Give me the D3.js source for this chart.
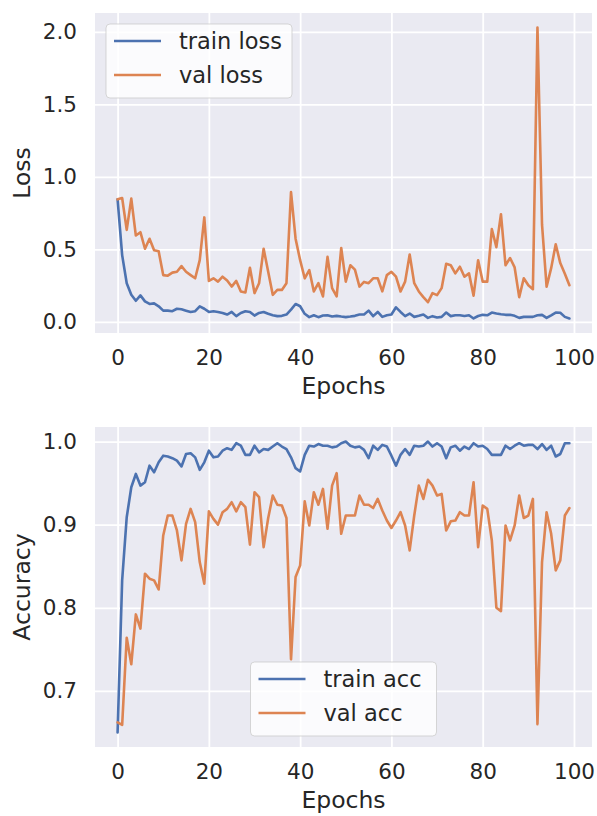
<!DOCTYPE html>
<html>
<head>
<meta charset="utf-8">
<script src="https://cdn.jsdelivr.net/npm/d3@7/dist/d3.min.js"></script>
<style>
  body { margin: 0; background: #ffffff; }
  text { font-family: "DejaVu Sans", sans-serif; fill: #262626; }
</style>
</head>
<body>
<div id="chart"></div>
<script>
// Data (100 epochs)
var epochs = d3.range(100);

var trainLoss = [
  0.845, 0.46, 0.266, 0.186, 0.145, 0.182, 0.141, 0.123, 0.127, 0.107,
  0.077, 0.077, 0.073, 0.09, 0.086, 0.077, 0.068, 0.073, 0.107, 0.09,
  0.068, 0.073, 0.068, 0.061, 0.05, 0.068, 0.039, 0.061, 0.073, 0.068,
  0.043, 0.061, 0.068, 0.055, 0.045, 0.039, 0.041, 0.05, 0.084, 0.123,
  0.107, 0.055, 0.032, 0.045, 0.032, 0.043, 0.045, 0.036, 0.041, 0.036,
  0.032, 0.036, 0.041, 0.05, 0.05, 0.077, 0.039, 0.068, 0.034, 0.045,
  0.05, 0.10, 0.068, 0.039, 0.057, 0.034, 0.041, 0.05, 0.027, 0.039,
  0.03, 0.034, 0.064, 0.039, 0.045, 0.045, 0.04, 0.045, 0.023, 0.04,
  0.048, 0.045, 0.064, 0.057, 0.052, 0.048, 0.048, 0.041, 0.027, 0.034,
  0.034, 0.034, 0.045, 0.048, 0.027, 0.045, 0.064, 0.062, 0.034, 0.023
];

var valLoss = [
  0.845, 0.854, 0.634, 0.85, 0.595, 0.618, 0.504, 0.573, 0.493, 0.486,
  0.322, 0.318, 0.339, 0.345, 0.384, 0.345, 0.322, 0.30, 0.425, 0.72,
  0.282, 0.30, 0.277, 0.311, 0.285, 0.243, 0.282, 0.209, 0.202, 0.373,
  0.198, 0.266, 0.504, 0.345, 0.186, 0.22, 0.22, 0.266, 0.895, 0.573,
  0.425, 0.30, 0.357, 0.209, 0.266, 0.175, 0.448, 0.232, 0.175, 0.509,
  0.277, 0.39, 0.36, 0.243, 0.275, 0.266, 0.30, 0.30, 0.21, 0.322,
  0.345, 0.311, 0.209, 0.277, 0.464, 0.266, 0.209, 0.17, 0.135, 0.198,
  0.184, 0.232, 0.40, 0.39, 0.334, 0.38, 0.311, 0.334, 0.18, 0.425,
  0.277, 0.277, 0.64, 0.515, 0.742, 0.39, 0.44, 0.375, 0.17, 0.30,
  0.252, 0.225, 2.03, 0.67, 0.242, 0.37, 0.535, 0.405, 0.332, 0.252
];

var trainAcc = [
  0.650, 0.833, 0.909, 0.945, 0.961, 0.947, 0.951, 0.971, 0.963, 0.975,
  0.983, 0.982, 0.980, 0.977, 0.970, 0.985, 0.986, 0.981, 0.966, 0.975,
  0.989, 0.981, 0.982, 0.989, 0.992, 0.990, 0.998, 0.995, 0.984, 0.984,
  0.995, 0.987, 0.991, 0.990, 0.994, 0.998, 0.994, 0.991, 0.981, 0.968,
  0.964, 0.984, 0.995, 0.994, 0.997, 0.995, 0.995, 0.993, 0.994, 0.998,
  1.000, 0.995, 0.993, 0.994, 0.990, 0.980, 0.995, 0.990, 0.996, 0.994,
  0.983, 0.971, 0.984, 0.991, 0.984, 0.995, 0.994, 0.995, 1.000, 0.994,
  0.998, 0.994, 0.980, 0.993, 0.995, 0.989, 0.994, 0.991, 0.998, 0.994,
  0.995, 0.991, 0.984, 0.984, 0.984, 0.995, 0.991, 0.995, 0.998, 0.995,
  0.996, 0.996, 0.991, 0.997, 0.990, 0.995, 0.982, 0.985, 0.998, 0.998
];

var valAcc = [
  0.662, 0.659, 0.764, 0.732, 0.792, 0.775, 0.841, 0.835, 0.833, 0.822,
  0.887, 0.911, 0.911, 0.893, 0.857, 0.901, 0.919, 0.903, 0.855, 0.829,
  0.916, 0.907, 0.900, 0.915, 0.919, 0.927, 0.916, 0.927, 0.921, 0.876,
  0.939, 0.933, 0.873, 0.908, 0.935, 0.924, 0.923, 0.908, 0.738, 0.837,
  0.851, 0.928, 0.899, 0.939, 0.924, 0.943, 0.895, 0.947, 0.962, 0.889,
  0.911, 0.911, 0.911, 0.935, 0.924, 0.924, 0.920, 0.931, 0.917, 0.905,
  0.896, 0.905, 0.915, 0.899, 0.869, 0.911, 0.947, 0.931, 0.954, 0.947,
  0.935, 0.937, 0.893, 0.904, 0.905, 0.915, 0.911, 0.911, 0.951, 0.873,
  0.923, 0.919, 0.881, 0.800, 0.796, 0.899, 0.881, 0.899, 0.935, 0.908,
  0.911, 0.931, 0.660, 0.855, 0.915, 0.889, 0.845, 0.857, 0.911, 0.920
];

// tick labels
var xTicks = [0, 20, 40, 60, 80, 100];
var lossTicks = [0.0, 0.5, 1.0, 1.5, 2.0];
var accTicks = [0.7, 0.8, 0.9, 1.0];

// seaborn "deep" colours
var trainColor = "#4c72b0";
var valColor = "#dd8452";

// Set svg dimensions
var svgWidth = 597;
var svgHeight = 816;

// panel box (both subplots share x placement)
var panelLeft = 95;
var panelRight = 592;
var panelHeight = 320;

var svg = d3.select("#chart")
  .append("svg")
  .attr("width", svgWidth)
  .attr("height", svgHeight);

// matplotlib style 5% padding around the data
function padded(values) {
  var lo = d3.min(values), hi = d3.max(values);
  var pad = (hi - lo) * 0.05;
  return [lo - pad, hi + pad];
}

var xScale = d3.scaleLinear()
  .domain(padded([0, 99]))
  .range([panelLeft, panelRight]);

function drawPanel(top, train, val, yLabel, yTicks, names, legendSpot) {
  var bottom = top + panelHeight;

  var yScale = d3.scaleLinear()
    .domain(padded(train.concat(val)))
    .range([bottom, top]);

  var g = svg.append("g");

  // grey background
  g.append("rect")
    .attr("x", panelLeft)
    .attr("y", top)
    .attr("width", panelRight - panelLeft)
    .attr("height", panelHeight)
    .attr("fill", "#eaeaf2");

  // white grid
  g.append("g")
    .attr("transform", `translate(0, ${bottom})`)
    .call(d3.axisBottom(xScale).tickValues(xTicks).tickSize(-panelHeight).tickFormat(""))
    .call(a => a.select(".domain").remove())
    .selectAll("line")
    .attr("stroke", "#ffffff")
    .attr("stroke-width", 1.8);

  g.append("g")
    .attr("transform", `translate(${panelLeft}, 0)`)
    .call(d3.axisLeft(yScale).tickValues(yTicks).tickSize(-(panelRight - panelLeft)).tickFormat(""))
    .call(a => a.select(".domain").remove())
    .selectAll("line")
    .attr("stroke", "#ffffff")
    .attr("stroke-width", 1.8);

  // tick labels
  var xAxis = g.append("g")
    .attr("transform", `translate(0, ${bottom})`)
    .call(d3.axisBottom(xScale).tickValues(xTicks).tickSize(0).tickPadding(17).tickFormat(d3.format("d")));
  xAxis.select(".domain").remove();
  xAxis.selectAll("text")
    .style("font-size", "21.5px")
    .attr("fill", "#262626");

  var yAxis = g.append("g")
    .attr("transform", `translate(${panelLeft}, 0)`)
    .call(d3.axisLeft(yScale).tickValues(yTicks).tickSize(0).tickPadding(18).tickFormat(d3.format(".1f")));
  yAxis.select(".domain").remove();
  yAxis.selectAll("text")
    .style("font-size", "21.5px")
    .attr("fill", "#262626");

  // the two curves
  var line = d3.line()
    .x((d, i) => xScale(epochs[i]))
    .y(d => yScale(d));

  g.append("path")
    .datum(train)
    .attr("d", line)
    .attr("fill", "none")
    .attr("stroke", trainColor)
    .attr("stroke-width", 2.6)
    .attr("stroke-linejoin", "round")
    .attr("stroke-linecap", "round");

  g.append("path")
    .datum(val)
    .attr("d", line)
    .attr("fill", "none")
    .attr("stroke", valColor)
    .attr("stroke-width", 2.6)
    .attr("stroke-linejoin", "round")
    .attr("stroke-linecap", "round");

  // axis labels
  g.append("text")
    .attr("x", (panelLeft + panelRight) / 2)
    .attr("y", bottom + 61)
    .attr("text-anchor", "middle")
    .style("font-size", "23.5px")
    .text("Epochs");

  g.append("text")
    .attr("transform", `translate(30, ${top + panelHeight / 2}) rotate(-90)`)
    .attr("text-anchor", "middle")
    .style("font-size", "23.5px")
    .text(yLabel);

  // legend box
  var boxW = 186, boxH = 74;
  var boxX, boxY;
  if (legendSpot === "upper left") {
    boxX = panelLeft + 11;
    boxY = top + 11;
  } else {
    boxX = (panelLeft + panelRight) / 2 - boxW / 2;
    boxY = bottom - 11 - boxH;
  }

  var legend = g.append("g")
    .attr("transform", `translate(${boxX}, ${boxY})`);

  legend.append("rect")
    .attr("width", boxW)
    .attr("height", boxH)
    .attr("rx", 4)
    .attr("fill", "#ffffff")
    .attr("fill-opacity", 0.8)
    .attr("stroke", "#cccccc")
    .attr("stroke-opacity", 0.8);

  var colors = [trainColor, valColor];
  names.forEach(function(name, i) {
    var cy = 17 + i * 34;
    legend.append("line")
      .attr("x1", 8)
      .attr("x2", 55)
      .attr("y1", cy)
      .attr("y2", cy)
      .attr("stroke", colors[i])
      .attr("stroke-width", 2.6);
    legend.append("text")
      .attr("x", 73)
      .attr("y", cy)
      .attr("dy", "0.35em")
      .style("font-size", "22.5px")
      .text(name);
  });
}

drawPanel(13, trainLoss, valLoss, "Loss", lossTicks, ["train loss", "val loss"], "upper left");
drawPanel(427, trainAcc, valAcc, "Accuracy", accTicks, ["train acc", "val acc"], "lower center");
</script>
</body>
</html>
